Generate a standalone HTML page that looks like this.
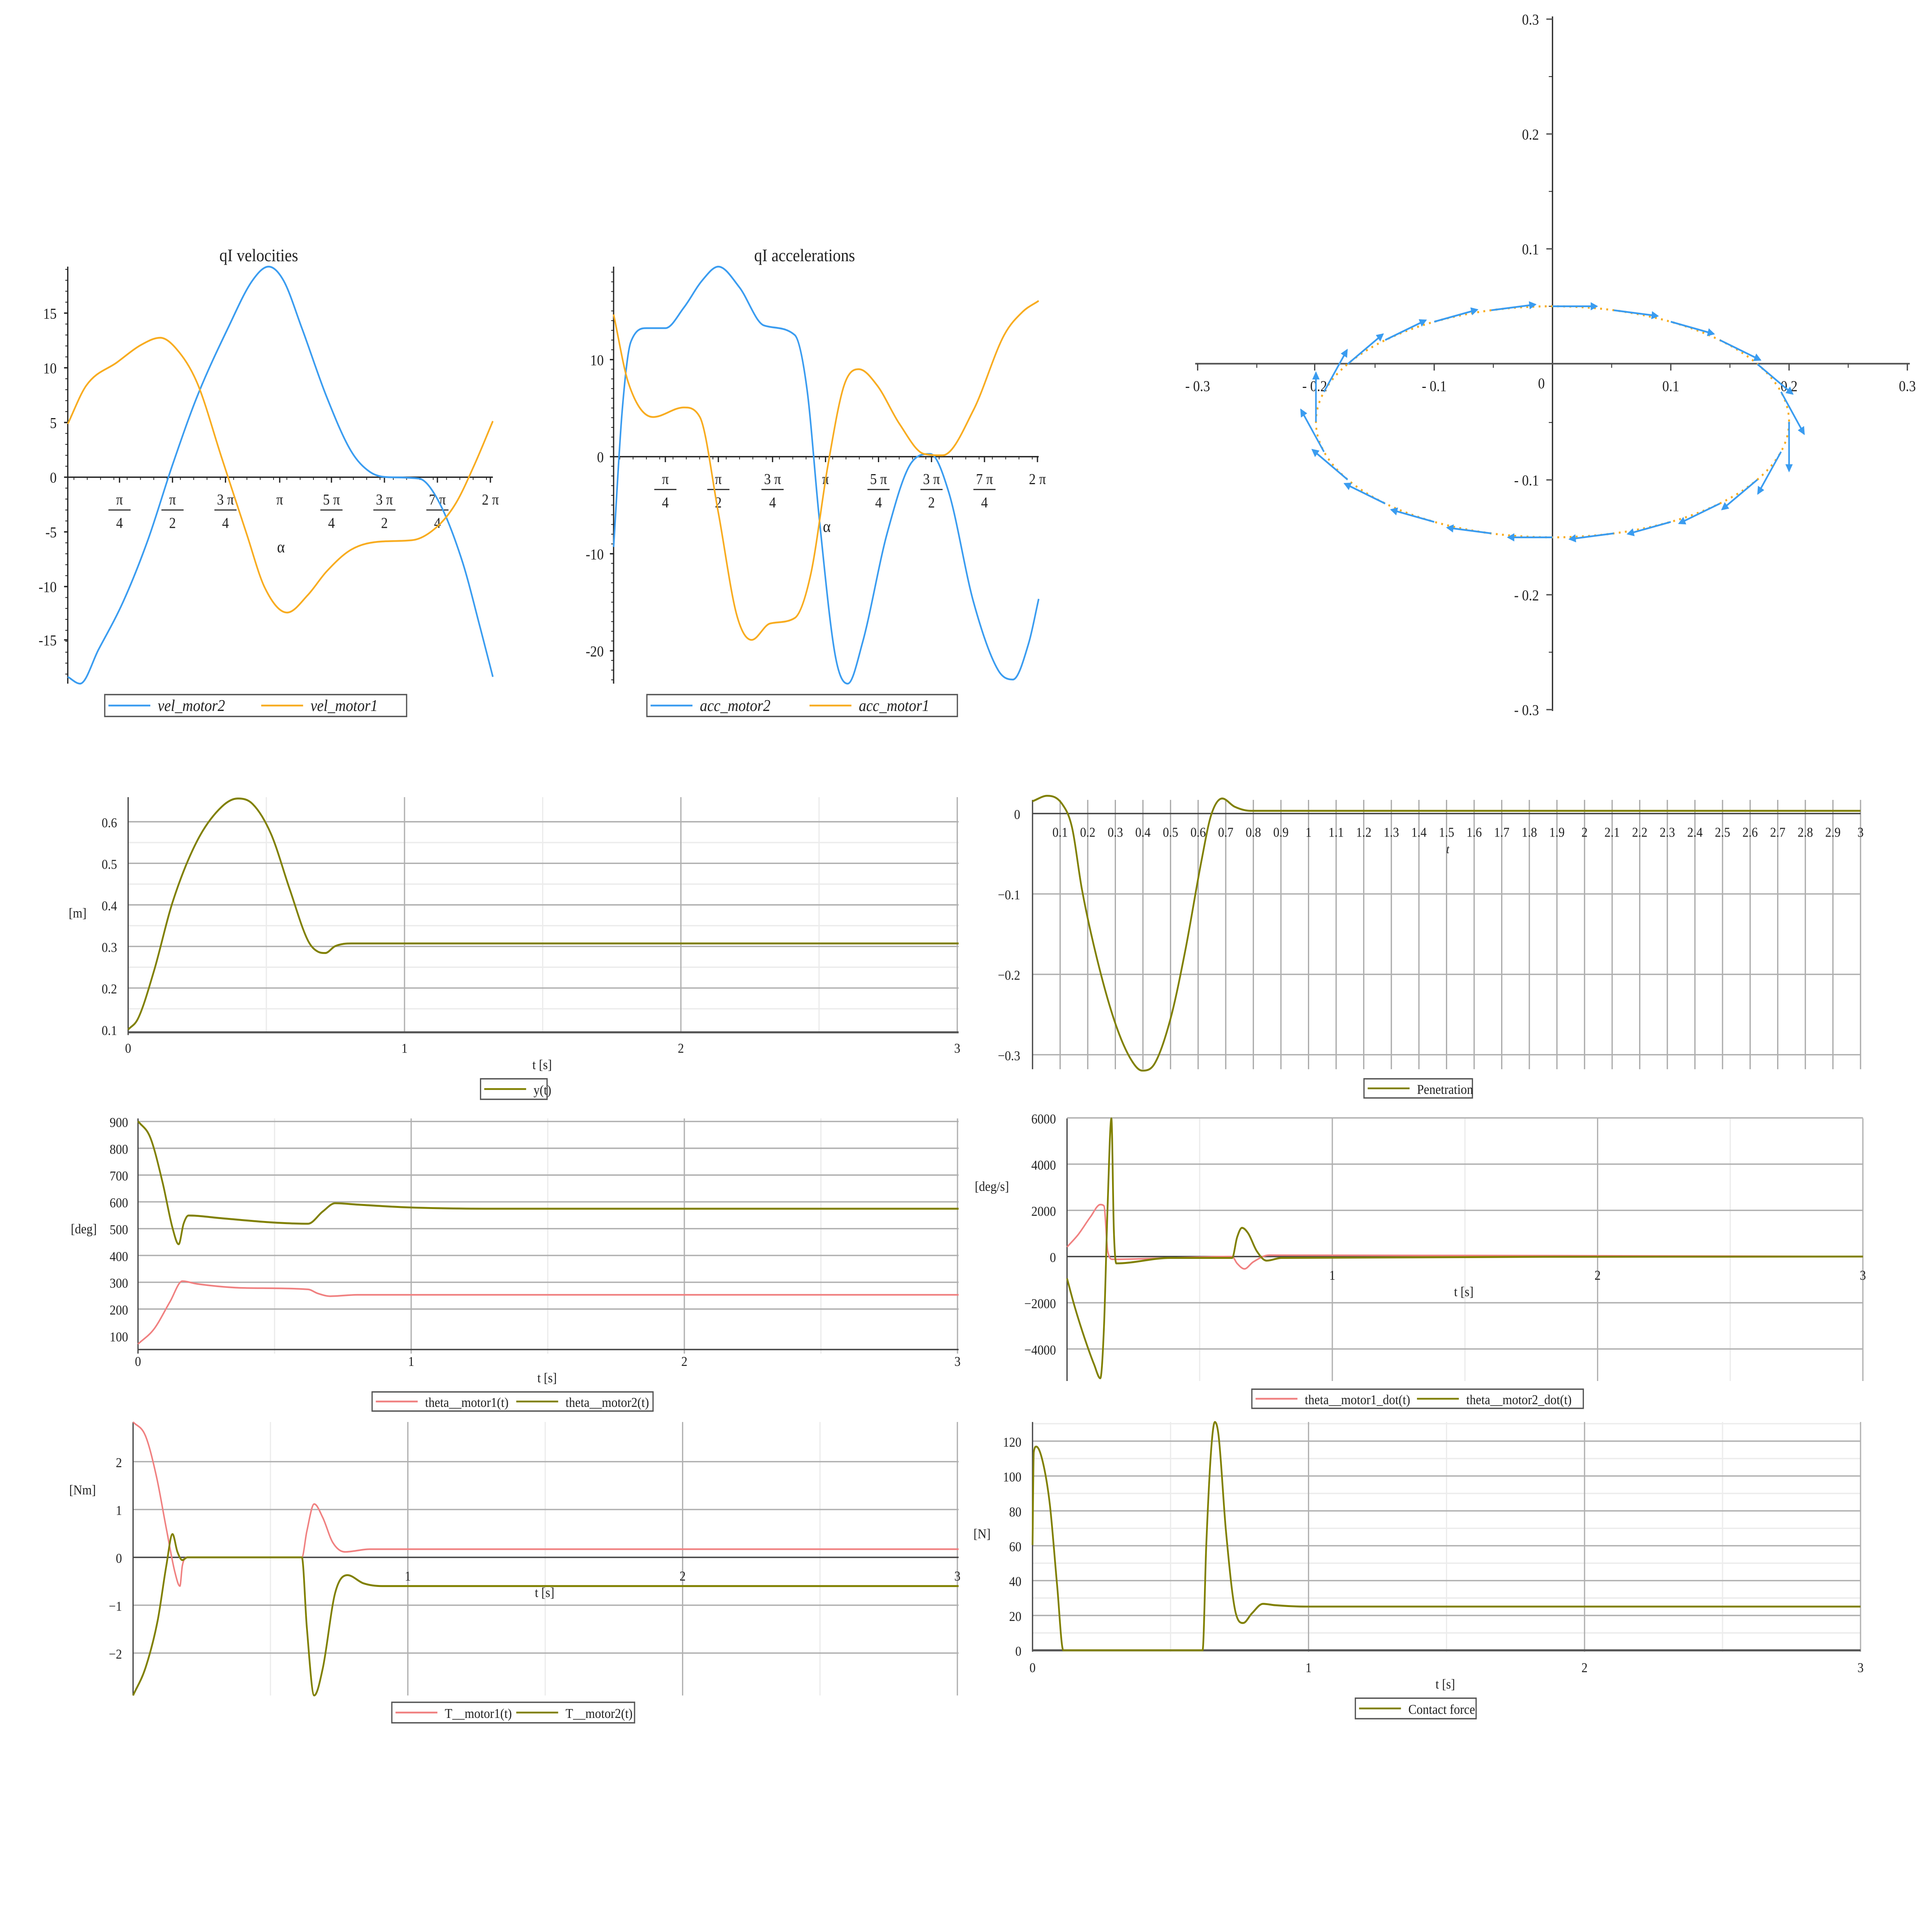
<!DOCTYPE html>
<html><head><meta charset="utf-8">
<style>
html,body{margin:0;padding:0;background:#fff;overflow:hidden;width:100%;height:100%;}
svg{display:block;position:absolute;left:0;top:0;width:100vw;height:100vh;}
text{font-family:"Liberation Serif",serif;fill:#222;}
</style></head>
<body>
<svg id="root" xmlns="http://www.w3.org/2000/svg" viewBox="0 0 1568 1413" preserveAspectRatio="none">
<defs><marker id="ah" markerWidth="6" markerHeight="6" refX="5" refY="3" orient="auto" markerUnits="userSpaceOnUse"><path d="M0,0 L6,3 L0,6 z" fill="#3a9cf0"/></marker></defs>
<rect width="1568" height="1413" fill="#fff"/>
<g id="s"></g>
</svg>
<script>
const S=document.getElementById('s');const NS='http://www.w3.org/2000/svg';
function el(t,a,txt){const e=document.createElementNS(NS,t);for(const k in a)e.setAttribute(k,a[k]);if(txt!==undefined)e.textContent=txt;S.appendChild(e);return e;}
function line(x1,y1,x2,y2,c,w,extra){return el('line',Object.assign({x1,y1,x2,y2,stroke:c,'stroke-width':w||1},extra||{}));}
function txt(x,y,s,size,anchor,extra){return el('text',Object.assign({x,y,'font-size':size||10,'text-anchor':anchor||'middle'},extra||{}),s);}
function mono(p){const n=p.length;const dx=[],m=[],t=[];for(let i=0;i<n-1;i++){dx[i]=p[i+1][0]-p[i][0];m[i]=(p[i+1][1]-p[i][1])/dx[i];}
 t[0]=m[0];t[n-1]=m[n-2];for(let i=1;i<n-1;i++){if(m[i-1]*m[i]<=0)t[i]=0;else{t[i]=(m[i-1]+m[i])/2;}}
 for(let i=0;i<n-1;i++){if(m[i]===0){t[i]=0;t[i+1]=0;continue;}const a=t[i]/m[i],b=t[i+1]/m[i];const s=a*a+b*b;if(s>9){const k=3/Math.sqrt(s);t[i]=k*a*m[i];t[i+1]=k*b*m[i];}}
 let d='M'+p[0][0]+','+p[0][1];for(let i=0;i<n-1;i++){const h=dx[i]/3;d+=`C${(p[i][0]+h).toFixed(2)},${(p[i][1]+t[i]*h).toFixed(2)} ${(p[i+1][0]-h).toFixed(2)},${(p[i+1][1]-t[i+1]*h).toFixed(2)} ${p[i+1][0]},${p[i+1][1]}`;}return d;}
function curve(pts,c,w){el('path',{d:mono(pts),fill:'none',stroke:c,'stroke-width':w||1.3,'stroke-linejoin':'round'});}
const BLUE='#3a9cf0',ORG='#f8ac20',OLV='#808000',RED='#f08080';
function frac(x,y,num,den){txt(x,y,num,11);line(x-9,y+4,x+9,y+4,'#222',0.8);txt(x,y+17,den,11);}
function legend(x1,y1,x2,y2,items,italic){el('rect',{x:x1,y:y1,width:x2-x1,height:y2-y1,fill:'#fff',stroke:'#555','stroke-width':1});
 items.forEach(it=>{line(it[0],(y1+y2)/2,it[0]+34,(y1+y2)/2,it[1],1.3);txt(it[0]+40,(y1+y2)/2+4,it[2],italic?12:10,'start',italic?{'font-style':'italic'}:{});});}

// Plot 1
txt(210,191,'qI velocities',13);
line(55,195,55,500,'#222',1);line(55,349,400,349,'#222',1);
[[15,229],[10,269],[5,309],[0,349],[-5,389],[-10,429],[-15,468]].forEach(v=>{txt(46,v[1]+4,v[0],11,'end');line(52,v[1],55,v[1],'#222');});
for(let y=197;y<500;y+=8)line(53,y,55,y,'#222',0.6);
[97,140,183,227,269,312,355,398].forEach(x=>line(x,349,x,353,'#222'));
for(let x=60;x<400;x+=10.8)line(x,349,x,351,'#222',0.6);
frac(97,369,'π','4');frac(140,369,'π','2');frac(183,369,'3 π','4');txt(227,369,'π',11);frac(269,369,'5 π','4');frac(312,369,'3 π','2');frac(355,369,'7 π','4');txt(398,369,'2 π',11);
txt(228,404,'α',12);
curve([[55,495],[65,500],[80,475],[100,440],[120,395],[140,340],[160,290],[185,240],[205,205],[218,195],[230,205],[245,240],[265,290],[285,330],[300,345],[315,349],[340,350],[355,365],[375,410],[390,460],[400,495]],BLUE);
curve([[55,310],[70,282],[95,265],[115,252],[130,247],[143,255],[160,280],[180,335],[200,390],[215,430],[233,448],[250,435],[265,418],[285,402],[310,396],[335,395],[355,385],[370,368],[385,340],[400,308]],ORG);
legend(85,508,330,524,[[88,BLUE,'vel_motor2'],[212,ORG,'vel_motor1']],true);

// Plot 2
txt(653,191,'qI accelerations',13);
line(498,195,498,500,'#222',1);line(498,334,843,334,'#222',1);
[[10,263],[0,334],[-10,405],[-20,476]].forEach(v=>{txt(490,v[1]+4,v[0],11,'end');line(495,v[1],498,v[1],'#222');});
for(let y=199;y<500;y+=7.1)line(496,y,498,y,'#222',0.6);
[540,583,627,670,713,756,799,842].forEach(x=>line(x,334,x,338,'#222'));
for(let x=503;x<843;x+=10.8)line(x,334,x,336,'#222',0.6);
frac(540,354,'π','4');frac(583,354,'π','2');frac(627,354,'3 π','4');txt(670,354,'π',11);frac(713,354,'5 π','4');frac(756,354,'3 π','2');frac(799,354,'7 π','4');txt(842,354,'2 π',11);
txt(671,389,'α',12);
curve([[498,400],[505,300],[512,250],[525,240],[540,240],[555,225],[570,205],[583,195],[600,210],[620,238],[645,245],[655,285],[665,380],[678,480],[688,500],[700,470],[720,390],[740,338],[755,332],[770,360],[790,440],[810,490],[822,497],[835,470],[843,438]],BLUE);
curve([[498,230],[510,280],[530,305],[555,298],[568,305],[583,375],[598,450],[610,468],[625,456],[645,452],[658,420],[672,340],[685,282],[697,270],[712,282],[730,310],[750,332],[765,333],[790,300],[815,245],[830,228],[843,220]],ORG);
legend(525,508,777,524,[[528,BLUE,'acc_motor2'],[657,ORG,'acc_motor1']],true);

// Plot 3
line(1260,12,1260,520,'#222',1);line(970,266,1550,266,'#555',1.2);
[[0.3,14],[0.2,98],[0.1,182],[-0.1,351],[-0.2,435],[-0.3,519]].forEach(v=>{txt(1249,v[1]+4,(v[0]<0?'- ':'')+Math.abs(v[0]),11,'end');line(1255,v[1],1260,v[1],'#555');});
[56,140,224,309,393,477].forEach(y=>line(1257,y,1260,y,'#222',0.6));
[[-0.3,972],[-0.2,1067],[-0.1,1164],[0.1,1356],[0.2,1452],[0.3,1548]].forEach(v=>{txt(v[1],286,(v[0]<0?'- ':'')+Math.abs(v[0]),11);line(v[1],266,v[1],271,'#444');});
[1020,1116,1212,1308,1404,1500].forEach(x=>line(x,266,x,269,'#444',0.8));
txt(1251,284,'0',11);
el('ellipse',{cx:1260,cy:308.5,rx:192,ry:84.5,fill:'none',stroke:ORG,'stroke-width':1.5,'stroke-dasharray':'1.5,3.5'});
const N=24;
for(let i=0;i<N;i++){const a=-Math.PI/2+i*2*Math.PI/N;const x=1260+192*Math.cos(a),y=308.5+84.5*Math.sin(a);
 const dx=-192*Math.sin(a),dy=84.5*Math.cos(a);const L=Math.hypot(dx,dy);const len=36;
 el('line',{x1:x.toFixed(1),y1:y.toFixed(1),x2:(x+dx/L*len).toFixed(1),y2:(y+dy/L*len).toFixed(1),stroke:BLUE,'stroke-width':1.3,'marker-end':'url(#ah)'});}

function grid(x0,x1,y0,y1,xs,ys,minorX,minorY){
 (minorY||[]).forEach(y=>line(x0,y,x1,y,'#ececec',1));
 (minorX||[]).forEach(x=>line(x,y0,x,y1,'#ececec',1));
 ys.forEach(y=>line(x0,y,x1,y,'#b0b0b0',1));
 xs.forEach(x=>line(x,y0,x,y1,'#b0b0b0',1));}
// Plot 4
{const X=t=>104+t*224.3,Y=v=>753-(v-0.1)*304;
 grid(104,778,583,755,[X(1),X(2),X(3)],[0.2,0.3,0.4,0.5,0.6].map(Y),[X(0.5),X(1.5),X(2.5)],[0.15,0.25,0.35,0.45,0.55].map(Y));
 line(104,583,104,757,'#444',1);line(104,755,778,755,'#555',1.5);
 [0.1,0.2,0.3,0.4,0.5,0.6].forEach(v=>txt(95,Y(v)+4,v,10,'end'));
 [0,1,2,3].forEach(t=>txt(X(t),770,t,10));
 txt(440,782,'t [s]',10);txt(63,671,'[m]',10);
 curve([[104,753],[112,745],[125,710],[140,660],[160,615],[180,590],[193,584],[205,588],[220,610],[235,650],[250,688],[258,696],[264,697],[272,692],[285,690],[330,690],[778,690]],OLV,1.4);
 legend(390,789,444,804,[[393,OLV,'y(t)']]);}
// Plot 5
{const X=t=>838+t*224,Y=v=>595-v*588;
 for(let i=1;i<=30;i++)line(X(i/10),585,X(i/10),782,'#aaa',1);
 [-0.1,-0.2,-0.3].forEach(v=>line(838,Y(v),1510,Y(v),'#b0b0b0',1));
 line(838,585,838,782,'#444',1);line(838,595,1510,595,'#444',1);
 for(let i=1;i<=30;i++){let s=(i/10).toFixed(1);if(s.endsWith('.0'))s=s.slice(0,-2);txt(X(i/10),612,s,10);}
 [[0,'0'],[-0.1,'−0.1'],[-0.2,'−0.2'],[-0.3,'−0.3']].forEach(v=>txt(828,Y(v[0])+4,v[1],10,'end'));
 txt(1175,624,'t',9,'middle',{'font-style':'italic'});
 curve([[838,586],[850,582],[862,588],[870,605],[878,650],[890,700],[905,748],[918,775],[927,783],[937,778],[950,745],[962,695],[975,630],[983,596],[992,584],[1002,590],[1015,593],[1510,593]],OLV,1.4);
 legend(1107,789,1195,803,[[1110,OLV,'Penetration']]);}
// Plot 6
{const X=t=>112+t*221.7,Y=v=>977-(v-100)*0.196;
 grid(112,778,818,990,[X(1),X(2),X(3)],[200,300,400,500,600,700,800,900].map(Y),[X(0.5),X(1.5),X(2.5)],[]);
 line(112,818,112,990,'#444',1);line(112,987,778,987,'#444',1);
 [100,200,300,400,500,600,700,800,900].forEach(v=>txt(104,Y(v)+4,v,10,'end'));
 [0,1,2,3].forEach(t=>txt(X(t),999,t,10));
 txt(444,1011,'t [s]',10);txt(68,902,'[deg]',10);
 curve([[112,820],[122,832],[132,865],[140,898],[145,910],[149,895],[153,889],[180,891],[220,894],[250,895],[262,886],[272,880],[290,881],[330,883],[400,884],[778,884]],OLV,1.4);
 curve([[112,983],[125,972],[138,952],[148,937],[160,939],[200,942],[250,943],[258,946],[268,948],[290,947],[778,947]],RED,1.2);
 legend(302,1018,530,1032,[[305,RED,'theta__motor1(t)'],[419,OLV,'theta__motor2(t)']]);}
// Plot 7
{const X=t=>866+t*215.3,Y=v=>919-v*0.0169;
 grid(866,1512,818,1010,[X(1),X(2),X(3)],[6000,4000,2000,-2000,-4000].map(Y),[X(0.5),X(1.5),X(2.5)],[]);
 line(866,818,866,1010,'#444',1);line(866,919,1512,919,'#444',1);
 [6000,4000,2000,0,-2000,-4000].forEach(v=>txt(857,Y(v)+4,v<0?'−'+(-v):v,10,'end'));
 [1,2,3].forEach(t=>txt(X(t),936,t,10));
 txt(1188,948,'t [s]',10);txt(805,871,'[deg/s]',10);
 curve([[866,912],[875,903],[885,890],[893,881],[896,882],[899,915],[903,921],[950,920],[1000,919],[1004,924],[1010,928],[1017,923],[1030,918],[1512,919]],RED,1.2);
 curve([[866,935],[872,955],[880,978],[888,998],[893,1008],[896,970],[899,880],[902,818],[904,900],[906,924],[950,920],[1000,920],[1004,905],[1008,898],[1013,902],[1020,915],[1028,922],[1040,920],[1512,919]],OLV,1.4);
 legend(1016,1016,1285,1030,[[1019,RED,'theta__motor1_dot(t)'],[1150,OLV,'theta__motor2_dot(t)']]);}
// Plot 8
{const X=t=>108+t*223,Y=v=>1139-v*35;
 grid(108,778,1040,1240,[X(1),X(2),X(3)],[2,1,-1,-2].map(Y),[X(0.5),X(1.5),X(2.5)],[]);
 line(108,1040,108,1240,'#444',1);line(108,1139,778,1139,'#444',1);
 [[2,'2'],[1,'1'],[0,'0'],[-1,'−1'],[-2,'−2']].forEach(v=>txt(99,Y(v[0])+4,v[1],10,'end'));
 [1,2,3].forEach(t=>txt(X(t),1156,t,10));
 txt(442,1168,'t [s]',10);txt(67,1093,'[Nm]',10);
 curve([[108,1040],[118,1050],[127,1080],[135,1118],[142,1150],[146,1160],[148,1145],[152,1139],[245,1139],[249,1120],[255,1100],[262,1110],[270,1128],[280,1135],[300,1133],[778,1133]],RED,1.2);
 curve([[108,1240],[118,1220],[128,1185],[135,1145],[140,1122],[144,1135],[148,1141],[152,1139],[245,1139],[249,1190],[255,1240],[262,1220],[272,1165],[282,1152],[295,1158],[310,1160],[778,1160]],OLV,1.4);
 legend(318,1245,515,1260,[[321,RED,'T__motor1(t)'],[419,OLV,'T__motor2(t)']]);}
// Plot 9
{const X=t=>838+t*224,Y=v=>1207-v*1.275;
 grid(838,1510,1040,1208,[X(1),X(2),X(3)],[20,40,60,80,100,120].map(Y),[X(0.5),X(1.5),X(2.5)],[10,30,50,70,90,110,130].map(Y));
 line(838,1040,838,1208,'#444',1);line(838,1207,1510,1207,'#555',1.5);
 [0,20,40,60,80,100,120].forEach(v=>txt(829,Y(v)+4,v,10,'end'));
 [0,1,2,3].forEach(t=>txt(X(t),1223,t,10));
 txt(1173,1235,'t [s]',10);txt(797,1125,'[N]',10);
 curve([[838,1130],[839,1062],[841,1058],[846,1068],[852,1100],[858,1160],[863,1207],[976,1207],[979,1130],[983,1060],[986,1040],[989,1050],[995,1120],[1003,1180],[1009,1187],[1016,1180],[1025,1173],[1035,1174],[1060,1175],[1510,1175]],OLV,1.4);
 legend(1100,1242,1198,1257,[[1103,OLV,'Contact force']]);}
</script>
</body></html>
